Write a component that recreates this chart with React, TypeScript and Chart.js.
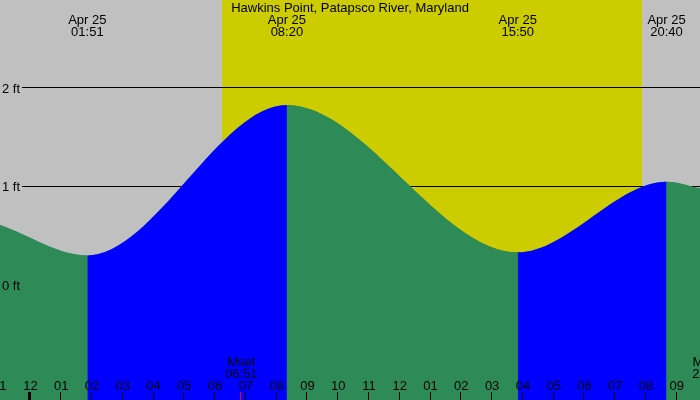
import React, { useEffect, useRef } from "react";
import { Chart, registerables } from "chart.js";

Chart.register(...registerables);

// ---- data ----
const stationTitle = "Hawkins Point, Patapsco River, Maryland";

// tide curve (hours since midnight Apr 25, feet)
const tideHours = [-0.988, 1.85, 8.333, 15.833, 20.667, 21.754];
const tideFeet = [0.608, 0.298, 1.827, 0.33, 1.048, 0.98];

// high / low labels
const extremeHours = [1.85, 8.333, 15.833, 20.667];
const extremeDates = ["Apr 25", "Apr 25", "Apr 25", "Apr 25"];
const extremeTimes = ["01:51", "08:20", "15:50", "20:40"];

// hour ticks along the bottom
const hourTicks = [-1, 0, 1, 2, 3, 4, 5, 6, 7, 8, 9, 10, 11, 12, 13, 14, 15, 16, 17, 18, 19, 20, 21];
const hourLabels = ["11", "12", "01", "02", "03", "04", "05", "06", "07", "08", "09", "10", "11", "12", "01", "02", "03", "04", "05", "06", "07", "08", "09"];

// daylight (sunrise, sunset)
const sunHours = [6.225, 19.86];

// moon events
const moonHours = [6.85, 22.03];
const moonNames = ["Mset", "Mrise"];
const moonTimes = ["06:51", "22:02"];

// height reference lines
const feetTicks = [0, 1, 2];
const feetLabels = ["0 ft", "1 ft", "2 ft"];

// axis extents
const X_MIN = -0.988;
const X_MAX = 21.754;
const Y_MIN = -1.171;
const Y_MAX = 2.894;

const GRAY = "#c0c0c0";
const YELLOW = "#cccc00";
const GREEN = "#2e8b57";
const BLUE = "#0000ff";
const FONT = "13px 'Liberation Sans', Arial, sans-serif";

const decorPlugin = {
  id: "tideDecor",
  beforeDraw(chart: any) {
    const { ctx } = chart;
    const x = chart.scales.x;
    const y = chart.scales.y;
    ctx.save();
    ctx.fillStyle = GRAY;
    ctx.fillRect(0, 0, chart.width, chart.height);
    const s1 = x.getPixelForValue(sunHours[0]);
    const s2 = x.getPixelForValue(sunHours[1]);
    ctx.fillStyle = YELLOW;
    ctx.fillRect(Math.round(s1), 0, Math.round(s2) - Math.round(s1), chart.height);
    ctx.strokeStyle = "#000";
    ctx.lineWidth = 1;
    feetTicks.forEach((v) => {
      const py = Math.floor(y.getPixelForValue(v)) + 0.5;
      ctx.beginPath();
      ctx.moveTo(22, py);
      ctx.lineTo(chart.width, py);
      ctx.stroke();
    });
    ctx.restore();
  },
  afterDatasetsDraw(chart: any) {
    const { ctx } = chart;
    const x = chart.scales.x;
    const y = chart.scales.y;
    ctx.save();
    ctx.font = FONT;
    ctx.fillStyle = "#000";
    ctx.textBaseline = "alphabetic";

    // title
    ctx.textAlign = "center";
    ctx.fillText(stationTitle, chart.width / 2, 12);

    // extreme labels
    extremeHours.forEach((h, i) => {
      const px = x.getPixelForValue(h);
      ctx.fillText(extremeDates[i], px, 24);
      ctx.fillText(extremeTimes[i], px, 36);
    });

    // feet labels
    ctx.textAlign = "left";
    feetTicks.forEach((v, i) => {
      const py = y.getPixelForValue(v);
      ctx.fillText(feetLabels[i], 2, py + 5);
    });

    // hour ticks
    ctx.textAlign = "center";
    hourTicks.forEach((h, i) => {
      const px = x.getPixelForValue(h);
      ctx.fillStyle = "#000";
      ctx.fillText(hourLabels[i], px, 390);
      if (h === 0) {
        ctx.fillRect(Math.round(px) - 2, 392, 3, 8);
      } else {
        ctx.fillRect(Math.round(px) - 1, 392, 1, 8);
      }
    });

    // moon events
    moonHours.forEach((h, i) => {
      const px = x.getPixelForValue(h);
      ctx.fillStyle = "#000";
      ctx.fillText(moonNames[i], px, 366);
      ctx.fillText(moonTimes[i], px, 378);
      ctx.fillStyle = "#ff0000";
      ctx.fillRect(Math.round(px) - 1, 392, 1, 8);
    });
    ctx.restore();
  },
};

export default function App() {
  const canvasRef = useRef<HTMLCanvasElement | null>(null);

  useEffect(() => {
    document.body.style.margin = "0";
    const canvas = canvasRef.current;
    if (!canvas) return;
    const points = tideHours.map((h, i) => ({ x: h, y: tideFeet[i] }));
    const common = {
      data: points,
      fill: "start",
      borderColor: "rgba(0,0,0,0)",
      borderWidth: 0,
      pointRadius: 0,
      cubicInterpolationMode: "monotone",
    };
    const chart = new Chart(canvas, {
      type: "line",
      data: {
        datasets: [
          {
            ...common,
            backgroundColor: GREEN,
            segment: {
              backgroundColor: (c: any) =>
                c.p1.parsed.y > c.p0.parsed.y ? BLUE : GREEN,
            },
          } as any,
          {
            ...common,
            backgroundColor: GREEN,
          } as any,
        ],
      },
      options: {
        responsive: false,
        animation: false,
        devicePixelRatio: 1,
        layout: { padding: 0 },
        plugins: { legend: { display: false }, tooltip: { enabled: false }, title: { display: false } },
        scales: {
          x: { type: "linear", min: X_MIN, max: X_MAX, display: false },
          y: { type: "linear", min: Y_MIN, max: Y_MAX, display: false },
        },
      },
      plugins: [decorPlugin],
    });
    return () => chart.destroy();
  }, []);

  return (
    <div style={{ position: "absolute", left: 0, top: 0, width: 700, height: 400 }}>
      <canvas ref={canvasRef} width={700} height={400} style={{ display: "block" }} />
    </div>
  );
}
